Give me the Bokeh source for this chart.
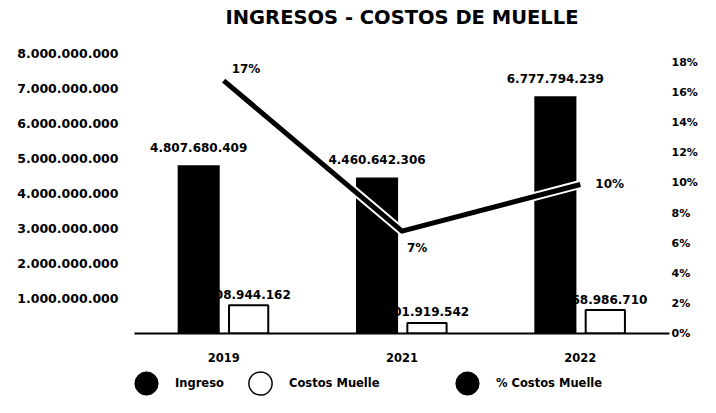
from bokeh.plotting import figure
from bokeh.layouts import column
from bokeh.core.properties import value
from bokeh.models import (ColumnDataSource, Range1d, LinearAxis, FixedTicker,
                          NumeralTickFormatter, LabelSet, Legend, LegendItem, Title)
from bokeh.transform import dodge
from bokeh.embed import file_html
from bokeh.resources import INLINE

# ---- data ----
years = ["2019", "2021", "2022"]
ingreso = [4807680409, 4460642306, 6777794239]
costos_muelle = [808944162, 301919542, 668986710]
pct_costos = [0.168, 0.068, 0.099]

left_ticks = [1000000000, 2000000000, 3000000000, 4000000000,
              5000000000, 6000000000, 7000000000, 8000000000]
left_tick_labels = ["1.000.000.000", "2.000.000.000", "3.000.000.000", "4.000.000.000",
                    "5.000.000.000", "6.000.000.000", "7.000.000.000", "8.000.000.000"]
right_ticks = [0.0, 0.02, 0.04, 0.06, 0.08, 0.10, 0.12, 0.14, 0.16, 0.18]

# ---- styles ----
FONT = "DejaVu Sans"
pct_dx = [8, 5, 15]
pct_dy = [12, -17, 0]


def fmt(v):
    return f"{v:,}".replace(",", ".")


src = ColumnDataSource(dict(
    year=years,
    ingreso=ingreso,
    costos=costos_muelle,
    pct=pct_costos,
    ingreso_lbl=[fmt(v) for v in ingreso],
    costos_lbl=[fmt(v) for v in costos_muelle],
    pct_lbl=[f"{round(v * 100)}%" for v in pct_costos],
    dx=pct_dx,
    dy=pct_dy,
))

p = figure(x_range=years, y_range=Range1d(0, 8e9), width=700, height=368,
           output_backend="svg", toolbar_location=None,
           min_border_left=134, min_border_right=28, min_border_top=53, min_border_bottom=35)
p.outline_line_color = None
p.xgrid.visible = False
p.ygrid.visible = False

# white spacer (closest to the frame) pushes the real title to the top
p.add_layout(Title(text=".", text_color="white", text_font=FONT, text_font_size="10px",
                   standoff=15), "above")
p.add_layout(Title(text="INGRESOS - COSTOS DE MUELLE", align="center",
                   vertical_align="bottom", standoff=0,
                   text_font=FONT, text_font_size="19.5px", text_font_style="bold",
                   text_color="black"), "above")

# left axis
ya = p.yaxis[0]
ya.ticker = FixedTicker(ticks=left_ticks)
ya.major_label_overrides = dict(zip(left_ticks, left_tick_labels))
ya.axis_line_color = None
ya.major_tick_line_color = None
ya.major_tick_out = 0
ya.major_tick_in = 0
ya.minor_tick_line_color = None
ya.major_label_standoff = 16
ya.major_label_text_font = FONT
ya.major_label_text_font_style = "bold"
ya.major_label_text_font_size = "12.5px"
ya.major_label_text_color = "black"

# x axis
xa = p.xaxis[0]
xa.axis_line_color = "black"
xa.axis_line_width = 2
xa.major_tick_line_color = None
xa.major_tick_out = 0
xa.major_tick_in = 0
xa.minor_tick_line_color = None
xa.major_label_standoff = 19
xa.major_label_text_font = FONT
xa.major_label_text_font_style = "bold"
xa.major_label_text_font_size = "11.5px"
xa.major_label_text_color = "black"

# right axis
p.extra_y_ranges = {"pct": Range1d(0, 0.186)}
ra = LinearAxis(y_range_name="pct", ticker=FixedTicker(ticks=right_ticks),
                formatter=NumeralTickFormatter(format="0%"))
ra.axis_line_color = None
ra.major_tick_line_color = None
ra.major_tick_out = 0
ra.major_tick_in = 0
ra.minor_tick_line_color = None
ra.major_label_standoff = 2
ra.major_label_text_font = FONT
ra.major_label_text_font_style = "bold"
ra.major_label_text_font_size = "11px"
ra.major_label_text_color = "black"
p.add_layout(ra, "right")

# bars
p.vbar(x=dodge("year", -0.14, range=p.x_range), top="ingreso", width=0.236,
       source=src, fill_color="black", line_color=None)
p.vbar(x=dodge("year", 0.14, range=p.x_range), top="costos", width=0.22,
       source=src, fill_color="white", line_color="black", line_width=2)

# line
p.line(x="year", y="pct", source=src, y_range_name="pct", line_color="white",
       line_width=9, line_join="round")
p.line(x="year", y="pct", source=src, y_range_name="pct", line_color="black",
       line_width=5, line_join="round")

# labels
lbl_style = dict(text_font=value(FONT), text_font_style="bold", text_font_size="12px",
                 text_color="black")
p.add_layout(LabelSet(x=dodge("year", -0.14, range=p.x_range), y="ingreso",
                      text="ingreso_lbl", source=src, text_align="center",
                      text_baseline="middle", y_offset=18, **lbl_style))
p.add_layout(LabelSet(x=dodge("year", 0.14, range=p.x_range), y="costos",
                      text="costos_lbl", source=src, text_align="center",
                      text_baseline="middle", y_offset=11, **lbl_style))
p.add_layout(LabelSet(x="year", y="pct", y_range_name="pct", text="pct_lbl",
                      source=src, text_align="left", text_baseline="middle",
                      x_offset="dx", y_offset="dy", **lbl_style))

# legend strip (separate figure so the legend is not clipped by the chart frame)
lg = figure(width=700, height=29, output_backend="svg", toolbar_location=None,
            x_axis_type=None, y_axis_type=None, x_range=Range1d(0, 1),
            y_range=Range1d(0, 1), min_border=0)
lg.outline_line_color = None
lg.xgrid.visible = False
lg.ygrid.visible = False
r_ing = lg.scatter(x="ingreso", y="ingreso", source=src, size=0, marker="circle",
                   fill_color="black", line_color="black")
r_cos = lg.scatter(x="costos", y="costos", source=src, size=0, marker="circle",
                   fill_color="white", line_color="black", line_width=1.5)
r_pct = lg.scatter(x="pct", y="pct", source=src, size=0, marker="circle",
                   fill_color="black", line_color="black")

leg_style = dict(glyph_width=58, glyph_height=58, label_standoff=0, padding=0,
                 margin=0, spacing=0, border_line_color=None, background_fill_alpha=0,
                 label_text_font=FONT, label_text_font_style="bold",
                 label_text_font_size="11.5px", label_text_color="black")
for name, rend, loc in [("Ingreso", r_ing, (-17, -14.5)),
                        ("Costos Muelle", r_cos, (97, -14.5)),
                        ("% Costos Muelle", r_pct, (304, -14.5))]:
    lg.add_layout(Legend(items=[LegendItem(label=name, renderers=[rend])],
                         location=loc, **leg_style))

layout = column(p, lg, spacing=0)
open("out.html", "w").write(file_html(layout, INLINE))
